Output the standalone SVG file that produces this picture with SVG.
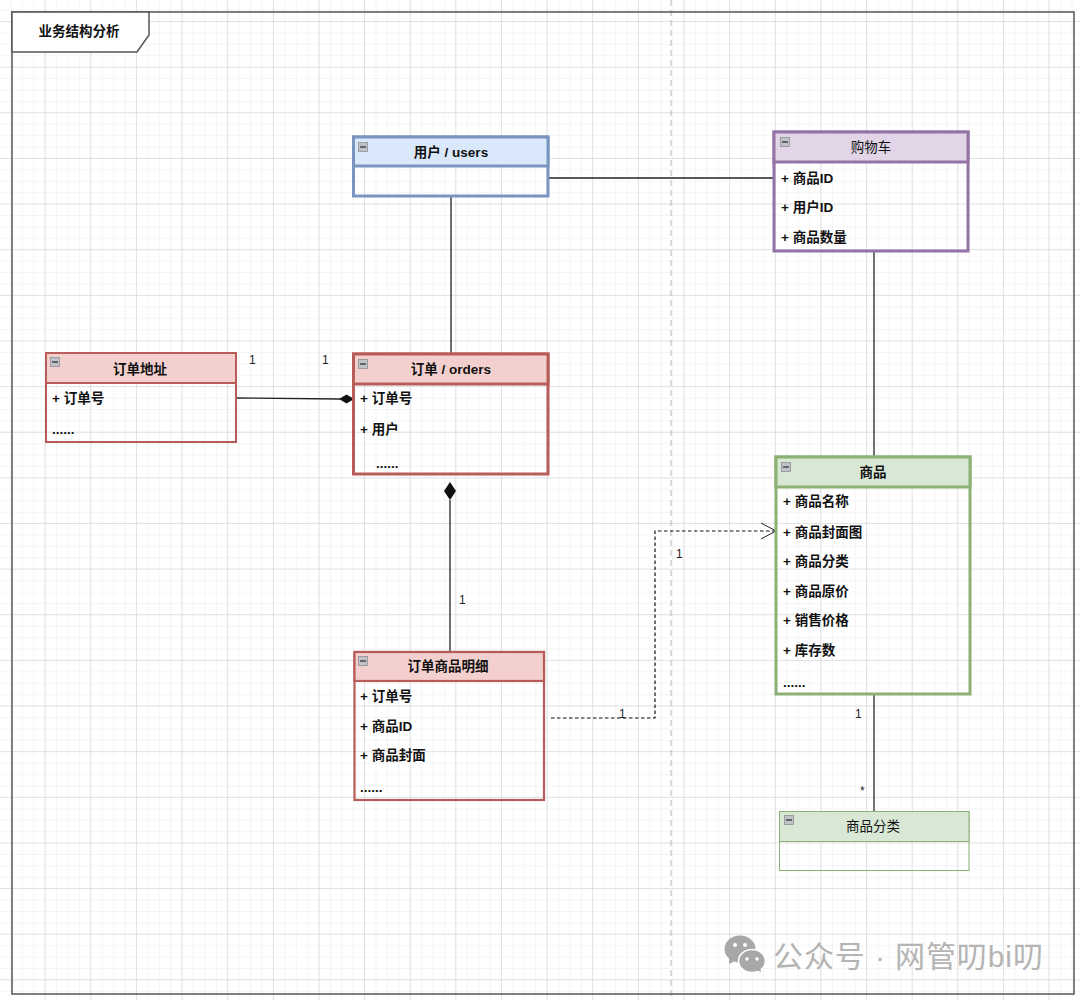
<svg xmlns="http://www.w3.org/2000/svg" width="1080" height="1000" viewBox="0 0 1080 1000">
<style>
text{font-family:"Liberation Sans","Noto Sans CJK SC",sans-serif;font-size:13.5px;fill:#111}
.b{font-weight:bold}
.m{text-anchor:middle}
.lbl{font-size:12px;fill:#222}
.ln{fill:none;stroke:#222;stroke-width:1.3}
.ico{fill:#bfc2c9;stroke:#8f8f8f;stroke-width:.8}
.dash{stroke:#b5b5b5;stroke-width:1}
.wm{font-size:30px;fill:#b4b4b4;letter-spacing:.9px}
.red{stroke:#b85c5a}.hred{fill:#f3cfcd;stroke:#b85c5a}
.blue{stroke:#7a94c0}.hblue{fill:#dae8fc;stroke:#7a94c0}
.pur{stroke:#9673a6}.hpur{fill:#e1d5e7;stroke:#9673a6}
.grn{stroke:#8cb174}.hgrn{fill:#d8e8d5;stroke:#8cb174}
.body{fill:none}
</style>
<defs>
<pattern id="minor" x="0" y="-0.8" width="11.41" height="11.41" patternUnits="userSpaceOnUse"><path d="M11.41 0V11.41M0 11.41H11.41" fill="none" stroke="#ebebeb" stroke-width="1"/></pattern>
<pattern id="major" x="0" y="-23.6" width="45.63" height="45.63" patternUnits="userSpaceOnUse"><path d="M45.63 0V45.63M0 45.63H45.63" fill="none" stroke="#cecece" stroke-width="1"/></pattern>
<symbol id="minus" viewBox="0 0 10 10" width="10" height="10"><rect class="ico" x=".5" y=".5" width="9" height="9"/><path d="M2 5H8" stroke="#333" stroke-width="1.3"/></symbol>
</defs>
<rect width="1080" height="1000" fill="#fff"/>
<rect width="1080" height="1000" fill="url(#minor)"/>
<rect width="1080" height="1000" fill="url(#major)"/>
<path class="dash" d="M671 0V1000" stroke-dasharray="6 4" fill="none"/>

<g id="frame">
<rect x="12" y="12" width="1062" height="982" fill="none" stroke="#555" stroke-width="1.5"/>
<path d="M12 12H149V35L137 52H12Z" fill="#fff" stroke="#555" stroke-width="1.5"/>
<text class="b m" x="79" y="36">业务结构分析</text>
</g>

<g id="connectors">
<path class="ln" d="M548 178H774"/>
<path class="ln" d="M451 196V354"/>
<path class="ln" d="M874 251V457"/>
<path class="ln" d="M236 398L340 399"/>
<path d="M339 399L346.5 394.5L354 399L346.5 403.5Z" fill="#111"/>
<path class="ln" d="M450 652V500"/>
<path d="M450 482L456 491L450 500L444 491Z" fill="#111"/>
<path class="ln" d="M551 718H655V531H776" stroke-dasharray="3.5 2.5" style="stroke:#111;stroke-width:1.2"/>
<path class="ln" d="M761 523L776 531L761 539" style="stroke-width:1"/>
<path class="ln" d="M874 694V811" style="stroke:#444;stroke-width:1.5"/>
<text class="lbl" x="249" y="364">1</text>
<text class="lbl" x="322" y="364">1</text>
<text class="lbl" x="459" y="604">1</text>
<text class="lbl" x="676" y="558">1</text>
<text class="lbl" x="619" y="718">1</text>
<text class="lbl" x="855" y="718">1</text>
<text class="lbl" x="860" y="795">*</text>
</g>

<g id="users">
<rect class="body blue" x="353.5" y="137" width="194.5" height="59" stroke-width="3"/>
<rect class="hblue" x="353.5" y="137" width="194.5" height="29" stroke-width="3"/>
<use href="#minus" x="358" y="142"/>
<text class="b m" x="451" y="157">用户 / users</text>
</g>

<g id="cart">
<rect class="body pur" x="774" y="132" width="194" height="119" stroke-width="3"/>
<rect class="hpur" x="774" y="132" width="194" height="30" stroke-width="3"/>
<use href="#minus" x="780" y="137"/>
<text class="m" x="871" y="152">购物车</text>
<text class="b" x="781" y="183">+ 商品ID</text>
<text class="b" x="781" y="212">+ 用户ID</text>
<text class="b" x="781" y="242">+ 商品数量</text>
</g>

<g id="address">
<rect class="body red" x="46" y="353" width="190" height="89" stroke-width="2"/>
<rect class="hred" x="46" y="353" width="190" height="30" stroke-width="2"/>
<use href="#minus" x="50" y="357"/>
<text class="b m" x="140" y="374">订单地址</text>
<text class="b" x="52" y="403">+ 订单号</text>
<text class="b" x="52" y="434">......</text>
</g>

<g id="orders">
<rect class="body red" x="353.5" y="354" width="194.5" height="120" stroke-width="3"/>
<rect class="hred" x="353.5" y="354" width="194.5" height="30" stroke-width="3"/>
<use href="#minus" x="358" y="359"/>
<text class="b m" x="451" y="374">订单 / orders</text>
<text class="b" x="360" y="403">+ 订单号</text>
<text class="b" x="360" y="434">+ 用户</text>
<text class="b" x="376" y="468">......</text>
</g>

<g id="order-items">
<rect class="body red" x="354.5" y="652" width="189.5" height="148" stroke-width="2.2"/>
<rect class="hred" x="354.5" y="652" width="189.5" height="29" stroke-width="2.2"/>
<use href="#minus" x="358" y="656"/>
<text class="b m" x="448" y="671">订单商品明细</text>
<text class="b" x="360" y="701">+ 订单号</text>
<text class="b" x="360" y="731">+ 商品ID</text>
<text class="b" x="360" y="760">+ 商品封面</text>
<text class="b" x="360" y="792">......</text>
</g>

<g id="product">
<rect class="body grn" x="776" y="457" width="194" height="237" stroke-width="3"/>
<rect class="hgrn" x="776" y="457" width="194" height="30" stroke-width="3"/>
<use href="#minus" x="781" y="462"/>
<text class="b m" x="873" y="477">商品</text>
<text class="b" x="783" y="506">+ 商品名称</text>
<text class="b" x="783" y="537">+ 商品封面图</text>
<text class="b" x="783" y="566">+ 商品分类</text>
<text class="b" x="783" y="596">+ 商品原价</text>
<text class="b" x="783" y="625">+ 销售价格</text>
<text class="b" x="783" y="655">+ 库存数</text>
<text class="b" x="783" y="687">......</text>
</g>

<g id="category">
<rect class="body grn" x="779.5" y="811.5" width="189.5" height="59" stroke-width="1"/>
<rect class="hgrn" x="779.5" y="811.5" width="189.5" height="30" stroke-width="1"/>
<use href="#minus" x="784" y="815"/>
<text class="m" x="873" y="831">商品分类</text>
</g>

<g id="watermark">
<ellipse cx="740" cy="949" rx="15.5" ry="13.5" fill="#a8a8a8"/>
<path d="M729 957L729 964L737 960Z" fill="#a8a8a8"/>
<ellipse cx="752" cy="961" rx="13.5" ry="11.5" fill="#a8a8a8" stroke="#fff" stroke-width="1.5"/>
<path d="M756 970L761 972L760 966Z" fill="#a8a8a8"/>
<circle cx="735" cy="945" r="2" fill="#fff"/><circle cx="745" cy="945" r="2" fill="#fff"/>
<circle cx="747" cy="959" r="1.7" fill="#fff"/><circle cx="757" cy="959" r="1.7" fill="#fff"/>
<text class="wm" x="773" y="967">公众号 · 网管叨bi叨</text>
</g>
</svg>
